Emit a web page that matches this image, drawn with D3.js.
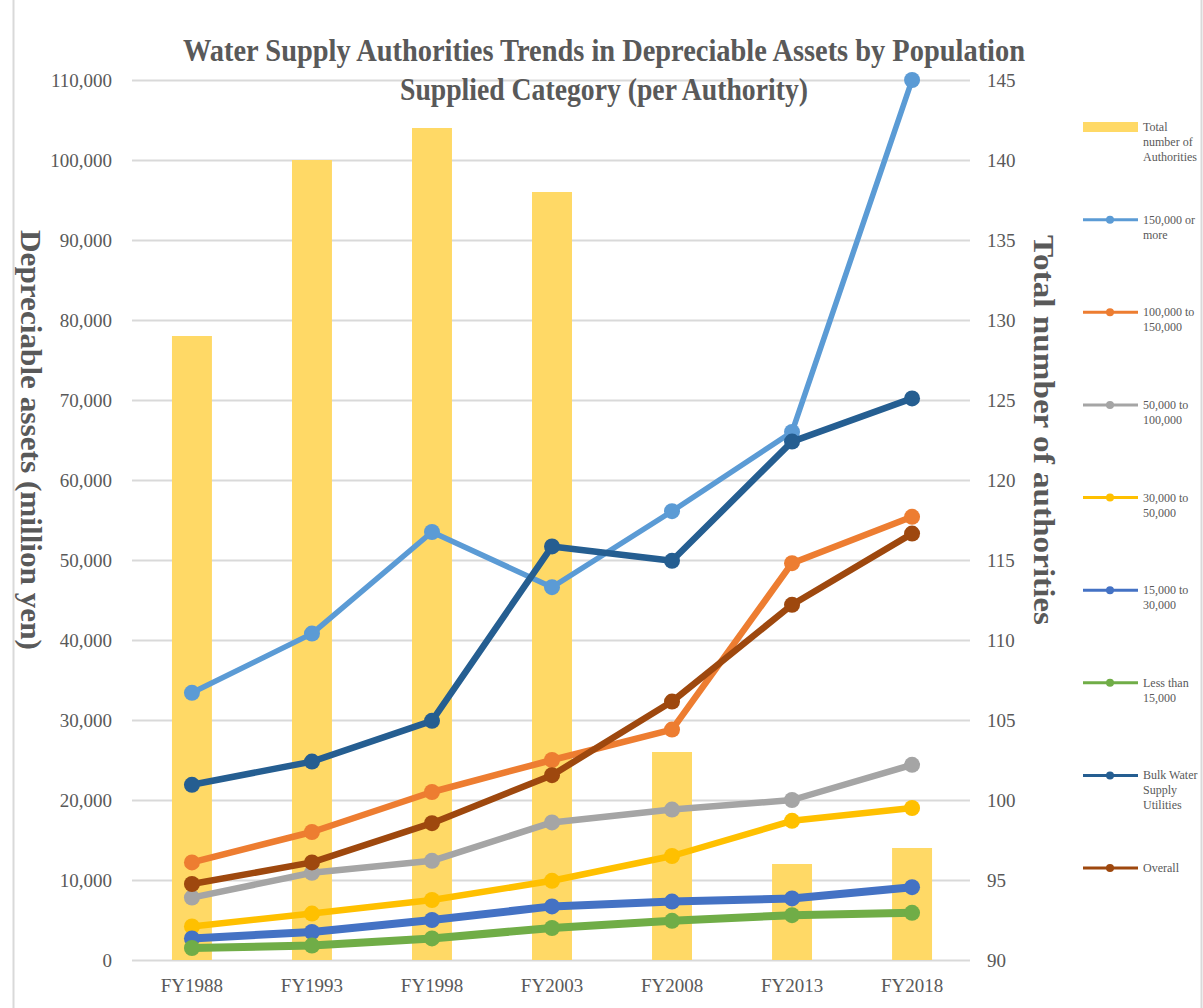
<!DOCTYPE html>
<html>
<head>
<meta charset="utf-8">
<script src="https://cdn.jsdelivr.net/npm/d3@7"></script>
<style>
  html, body { margin: 0; padding: 0; background: #ffffff; }
  svg { display: block; }
  text { font-family: "Liberation Serif", "Times New Roman", serif; }
</style>
</head>
<body>
<svg id="chart" width="1203" height="1008"></svg>
<script>
// Fiscal years on the category axis
const categories = ["FY1988", "FY1993", "FY1998", "FY2003", "FY2008", "FY2013", "FY2018"];

// Total number of authorities (right axis, bars)
const authorities = [129, 140, 142, 138, 103, 96, 97];

// Depreciable assets per authority, million yen (left axis, lines)
const pop150kPlus   = [33400, 40800, 53500, 46600, 56100, 66000, 110000];
const pop100kTo150k = [12200, 16000, 21000, 25000, 28800, 49600, 55400];
const pop50kTo100k  = [7800, 10900, 12400, 17200, 18800, 20000, 24400];
const pop30kTo50k   = [4200, 5800, 7500, 9900, 13000, 17400, 19000];
const pop15kTo30k   = [2700, 3500, 5000, 6700, 7300, 7700, 9100];
const popUnder15k   = [1500, 1800, 2700, 4000, 4900, 5600, 5900];
const bulkSupply    = [21900, 24800, 29900, 51700, 49900, 64800, 70200];
const overall       = [9500, 12200, 17100, 23100, 32300, 44400, 53300];

// Tick values for both value axes
const leftTicks  = [0, 10000, 20000, 30000, 40000, 50000, 60000, 70000, 80000, 90000, 100000, 110000];
const rightTicks = [90, 95, 100, 105, 110, 115, 120, 125, 130, 135, 140, 145];

const series = [
  { label: ["150,000 or", "more"],               values: pop150kPlus,   color: "#5B9BD5", width: 5.5 },
  { label: ["100,000 to", "150,000"],            values: pop100kTo150k, color: "#ED7D31", width: 6.5 },
  { label: ["50,000 to", "100,000"],             values: pop50kTo100k,  color: "#A5A5A5", width: 6.5 },
  { label: ["30,000 to", "50,000"],              values: pop30kTo50k,   color: "#FFC000", width: 6.5 },
  { label: ["15,000 to", "30,000"],              values: pop15kTo30k,   color: "#4472C4", width: 8 },
  { label: ["Less than", "15,000"],              values: popUnder15k,   color: "#70AD47", width: 8 },
  { label: ["Bulk Water", "Supply", "Utilities"], values: bulkSupply,   color: "#255E91", width: 6.5 },
  { label: ["Overall"],                          values: overall,       color: "#9E480E", width: 6.5 }
];

const barColor = "#FFD966";
const textColor = "#595959";
const gridColor = "#D9D9D9";

const svg = d3.select("#chart");

// Chart frame
svg.append("line").attr("x1", 13.5).attr("x2", 13.5).attr("y1", 0).attr("y2", 1008)
  .attr("stroke", gridColor).attr("stroke-width", 2);
svg.append("line").attr("x1", 1201.5).attr("x2", 1201.5).attr("y1", 0).attr("y2", 1008)
  .attr("stroke", gridColor).attr("stroke-width", 2);

const plot = { left: 132, right: 970, top: 80, bottom: 960 };

const x = d3.scaleBand()
  .domain(categories)
  .range([132, 972])
  .paddingInner(0.667)
  .paddingOuter(0.333);

const yLeft = d3.scaleLinear().domain([0, 110000]).range([plot.bottom, plot.top]);
const yRight = d3.scaleLinear().domain([90, 145]).range([plot.bottom, plot.top]);

// Horizontal gridlines
const grid = svg.append("g")
  .attr("transform", `translate(${plot.left},0)`)
  .call(d3.axisRight(yLeft).tickValues(leftTicks).tickSize(plot.right - plot.left).tickFormat(""));
grid.select(".domain").remove();
grid.selectAll("line").attr("stroke", gridColor).attr("stroke-width", 2);

// Left axis labels
const leftAxis = svg.append("g")
  .attr("transform", `translate(${plot.left - 12},0)`)
  .call(d3.axisLeft(yLeft).tickValues(leftTicks).tickSize(0).tickPadding(8).tickFormat(d3.format(",")));
leftAxis.select(".domain").remove();
leftAxis.selectAll("text")
  .attr("font-family", "Liberation Serif, serif")
  .attr("font-size", 19).attr("fill", textColor).attr("x", -8);

// Right axis labels
const rightAxis = svg.append("g")
  .attr("transform", `translate(${plot.right + 9},0)`)
  .call(d3.axisRight(yRight).tickValues(rightTicks).tickSize(0).tickPadding(8));
rightAxis.select(".domain").remove();
rightAxis.selectAll("text")
  .attr("font-family", "Liberation Serif, serif")
  .attr("font-size", 19).attr("fill", textColor);

// Category labels
const xAxis = svg.append("g")
  .attr("transform", `translate(0,${plot.bottom})`)
  .call(d3.axisBottom(x).tickSize(0).tickPadding(19));
xAxis.select(".domain").remove();
xAxis.selectAll("text")
  .attr("font-family", "Liberation Serif, serif")
  .attr("font-size", 19).attr("fill", textColor);

// Bars: total number of authorities
svg.append("g").selectAll("rect")
  .data(authorities)
  .join("rect")
  .attr("x", (d, i) => x(categories[i]))
  .attr("width", x.bandwidth())
  .attr("y", d => yRight(d))
  .attr("height", d => yRight(90) - yRight(d))
  .attr("fill", barColor);

// Lines with markers
const cx = (d, i) => x(categories[i]) + x.bandwidth() / 2;
const line = d3.line().x(cx).y(d => yLeft(d));

series.forEach(s => {
  const g = svg.append("g");
  g.append("path")
    .attr("d", line(s.values))
    .attr("fill", "none")
    .attr("stroke", s.color)
    .attr("stroke-width", s.width)
    .attr("stroke-linejoin", "round");
  g.selectAll("circle")
    .data(s.values)
    .join("circle")
    .attr("cx", cx)
    .attr("cy", d => yLeft(d))
    .attr("r", 8)
    .attr("fill", s.color);
});

// Title
const title = svg.append("g").attr("fill", textColor).attr("font-weight", "bold").attr("text-anchor", "middle");
title.append("text").attr("x", 604).attr("y", 61)
  .attr("font-size", 31)
  .attr("textLength", 842).attr("lengthAdjust", "spacingAndGlyphs")
  .text("Water Supply Authorities Trends in Depreciable Assets by Population");
title.append("text").attr("x", 604).attr("y", 100)
  .attr("font-size", 31)
  .attr("textLength", 408).attr("lengthAdjust", "spacingAndGlyphs")
  .text("Supplied Category (per Authority)");

// Axis titles
svg.append("text")
  .attr("transform", "translate(21,440) rotate(90)")
  .attr("text-anchor", "middle")
  .attr("font-size", 30).attr("font-weight", "bold").attr("fill", textColor)
  .attr("textLength", 420).attr("lengthAdjust", "spacingAndGlyphs")
  .text("Depreciable assets (million yen)");
svg.append("text")
  .attr("transform", "translate(1034,430) rotate(90)")
  .attr("text-anchor", "middle")
  .attr("font-size", 30).attr("font-weight", "bold").attr("fill", textColor)
  .attr("textLength", 390).attr("lengthAdjust", "spacingAndGlyphs")
  .text("Total number of authorities");

// Legend
const legend = svg.append("g");
const legendItems = [{ label: ["Total", "number of", "Authorities"], bar: true }].concat(series);
const legendY = d3.scaleLinear().domain([0, legendItems.length - 1]).range([127, 868]);
legendItems.forEach((item, i) => {
  const yy = legendY(i);
  const g = legend.append("g").attr("transform", `translate(0,${yy})`);
  if (item.bar) {
    g.append("rect").attr("x", 1083).attr("y", -5).attr("width", 55).attr("height", 10).attr("fill", barColor);
  } else {
    g.append("line").attr("x1", 1083).attr("x2", 1138).attr("y1", 0).attr("y2", 0)
      .attr("stroke", item.color).attr("stroke-width", 3);
    g.append("circle").attr("cx", 1110).attr("cy", 0).attr("r", 4).attr("fill", item.color);
  }
  const t = g.append("text").attr("x", 1143).attr("y", 4)
    .attr("font-size", 12).attr("fill", textColor);
  item.label.forEach((ln, k) => {
    t.append("tspan").attr("x", 1143).attr("dy", k === 0 ? 0 : 15).text(ln);
  });
});
</script>
</body>
</html>
